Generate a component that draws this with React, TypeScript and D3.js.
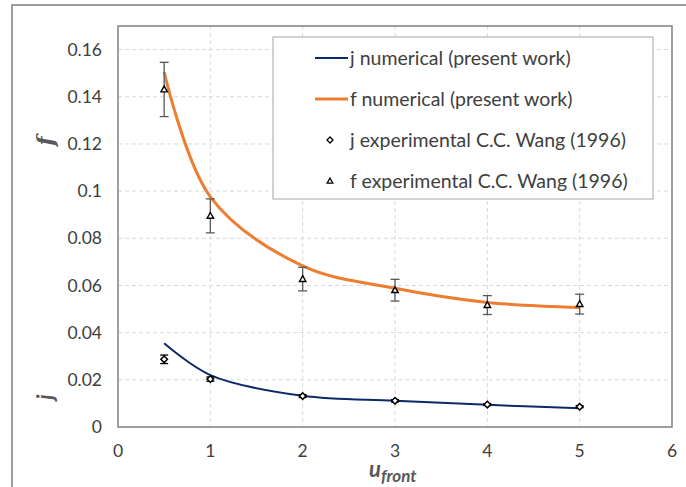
import React from "react";
import * as d3 from "d3";

// values
const uNum = [0.5, 1, 2, 3, 4, 5];
const jNumerical = [0.0355, 0.022, 0.0132, 0.0111, 0.0094, 0.0079];
const fNumerical = [0.1505, 0.0976, 0.0683, 0.0588, 0.0528, 0.0507];

const uExp = [0.5, 1, 2, 3, 4, 5];
const jExperimental = [0.0287, 0.0203, 0.0131, 0.0111, 0.0095, 0.0086];
const jError = [0.0018, 0.0009, 0.0006, 0.0005, 0.0004, 0.0004];
const fExperimental = [0.1431, 0.0895, 0.0627, 0.058, 0.0517, 0.0521];
const fError = [0.0115, 0.0072, 0.005, 0.0046, 0.004, 0.0042];

const xTicks = [0, 1, 2, 3, 4, 5, 6];
const yTicks = [0, 0.02, 0.04, 0.06, 0.08, 0.1, 0.12, 0.14, 0.16];

const legendLabels = [
  "j numerical (present work)",
  "f numerical (present work)",
  "j experimental C.C. Wang (1996)",
  "f experimental C.C. Wang (1996)",
];

const W = 686;
const H = 487;
const plot = { left: 118, top: 26, right: 672, bottom: 427 };
const font = "Lato, 'Liberation Sans', sans-serif";
const navy = "#0b2a6b";
const orange = "#ed7d31";
const grid = "#d9d9d9";
const textGray = "#404040";

export default function App() {
  const x = d3.scaleLinear().domain([0, 6]).range([plot.left, plot.right]);
  const y = d3.scaleLinear().domain([0, 0.17]).range([plot.bottom, plot.top]);

  const line = d3
    .line<[number, number]>()
    .x((d) => x(d[0]))
    .y((d) => y(d[1]))
    .curve(d3.curveCatmullRom.alpha(0.5));

  const jPath = line(uNum.map((u, i) => [u, jNumerical[i]]));
  const fPath = line(uNum.map((u, i) => [u, fNumerical[i]]));

  const diamond = (cx: number, cy: number, r: number) =>
    `M${cx},${cy - r}L${cx + r},${cy}L${cx},${cy + r}L${cx - r},${cy}Z`;
  const triangle = (cx: number, cy: number, r: number) =>
    `M${cx},${cy - r}L${cx + r * 0.95},${cy + r * 0.7}L${cx - r * 0.95},${cy + r * 0.7}Z`;

  const errBar = (u: number, v: number, e: number, cap: number, color: string, key: string) => (
    <g key={key} stroke={color} strokeWidth={1.3}>
      <line x1={x(u)} x2={x(u)} y1={y(v - e)} y2={y(v + e)} />
      <line x1={x(u) - cap} x2={x(u) + cap} y1={y(v - e)} y2={y(v - e)} />
      <line x1={x(u) - cap} x2={x(u) + cap} y1={y(v + e)} y2={y(v + e)} />
    </g>
  );

  const legX = 273;
  const legY = 37;
  const rowY = [58, 99, 140, 181];

  return (
    <svg
      width={W}
      height={H}
      style={{ position: "absolute", left: 0, top: 0, background: "#fff" }}
      fontFamily={font}
    >
      <rect x={0} y={0} width={W} height={H} fill="#fff" />
      {/* chart area border */}
      <rect x={12} y={5} width={W + 20} height={H + 20} fill="none" stroke="#7f7f7f" strokeWidth={1.5} />

      {/* grid */}
      {yTicks.slice(1).map((t) => (
        <line key={"gy" + t} x1={plot.left} x2={plot.right} y1={y(t)} y2={y(t)} stroke={grid} strokeDasharray="4,3" />
      ))}
      {xTicks.slice(1, -1).map((t) => (
        <line key={"gx" + t} x1={x(t)} x2={x(t)} y1={plot.top} y2={plot.bottom} stroke={grid} strokeDasharray="4,3" />
      ))}

      {/* plot area border */}
      <rect
        x={plot.left}
        y={plot.top}
        width={plot.right - plot.left}
        height={plot.bottom - plot.top}
        fill="none"
        stroke="#808080"
        strokeWidth={1.5}
      />

      {/* ticks labels */}
      {yTicks.map((t) => (
        <text key={"ty" + t} x={plot.left - 16} y={y(t)} dy="0.35em" textAnchor="end" fontSize={17.5} fill={textGray}>
          {d3.format("~g")(t)}
        </text>
      ))}
      {xTicks.map((t) => (
        <text key={"tx" + t} x={x(t)} y={plot.bottom + 24} dy="0.35em" textAnchor="middle" fontSize={17.5} fill={textGray}>
          {t}
        </text>
      ))}

      {/* axis titles */}
      <text
        transform={`translate(53,${141}) rotate(-90)`}
        textAnchor="middle"
        fontSize={22}
        fontWeight="bold"
        fontStyle="italic"
        fill="#595959"
        fontFamily="'DejaVu Serif', serif"
      >
        f
      </text>
      <text
        transform={`translate(53,${397}) rotate(-90)`}
        textAnchor="middle"
        fontSize={22}
        fontWeight="bold"
        fontStyle="italic"
        fill="#595959"
      >
        j
      </text>
      <text x={369} y={477} fill="#595959" fontWeight="bold" fontStyle="italic" fontSize={22}>
        u
        <tspan fontSize={17} dy={5}>
          front
        </tspan>
      </text>

      {/* numerical curves */}
      <path d={fPath ?? ""} fill="none" stroke={orange} strokeWidth={3} />
      <path d={jPath ?? ""} fill="none" stroke={navy} strokeWidth={2} />

      {/* experimental points with error bars */}
      {uExp.map((u, i) => errBar(u, fExperimental[i], fError[i], 4.5, "#595959", "ef" + i))}
      {uExp.map((u, i) => errBar(u, jExperimental[i], jError[i], 4, "#000", "ej" + i))}
      {uExp.map((u, i) => (
        <path key={"mf" + i} d={triangle(x(u), y(fExperimental[i]), 3.4)} fill="#fff" stroke="#000" strokeWidth={1.4} />
      ))}
      {uExp.map((u, i) => (
        <path key={"mj" + i} d={diamond(x(u), y(jExperimental[i]), 3.3)} fill="#fff" stroke="#000" strokeWidth={1.5} />
      ))}

      {/* legend */}
      <rect x={legX} y={legY} width={380} height={162} fill="#fff" stroke="#a6a6a6" strokeWidth={1} />
      <line x1={315} x2={348} y1={rowY[0]} y2={rowY[0]} stroke={navy} strokeWidth={2} />
      <line x1={315} x2={348} y1={rowY[1]} y2={rowY[1]} stroke={orange} strokeWidth={3} />
      <path d={diamond(330, rowY[2], 3)} fill="#fff" stroke="#000" strokeWidth={1.3} />
      <path d={triangle(330, rowY[3], 3)} fill="#fff" stroke="#000" strokeWidth={1.3} />
      {legendLabels.map((l, i) => (
        <text key={l} x={350} y={rowY[i]} dy="0.35em" fontSize={19.5} fill={textGray}>
          {l}
        </text>
      ))}
    </svg>
  );
}
